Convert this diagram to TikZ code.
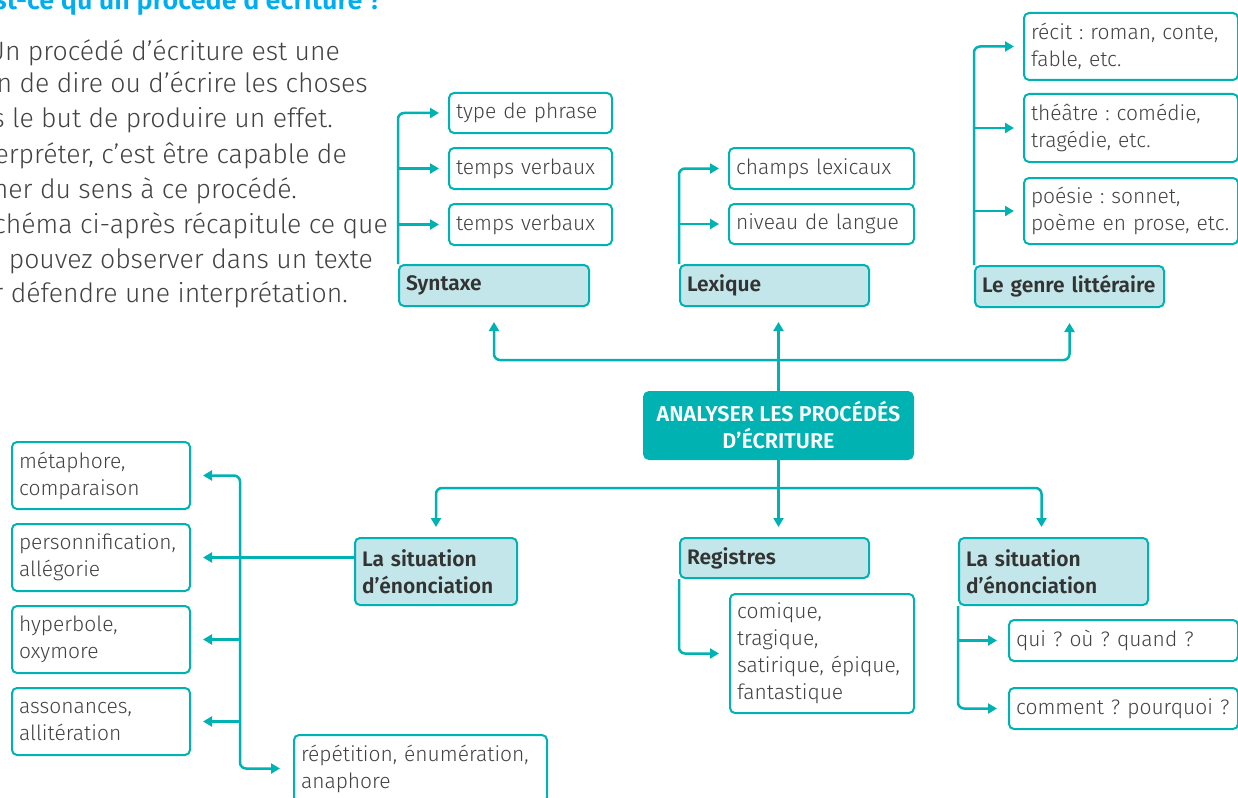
\documentclass[tikz,border=0pt]{standalone}
\usepackage{fontspec}
\setmainfont{Fira Sans Light}[BoldFont={Fira Sans SemiBold}]
\usetikzlibrary{arrows.meta}
\frenchspacing
\hyphenpenalty=10000
\exhyphenpenalty=10000
\definecolor{teal1}{RGB}{0,178,178}
\definecolor{pale}{RGB}{194,230,233}
\definecolor{txt}{RGB}{66,66,66}
\definecolor{ink}{RGB}{51,51,51}
\definecolor{titre}{RGB}{0,174,239}
\tikzset{
    box/.style={draw=teal1,line width=2pt,rounded corners=5pt,anchor=north west,
        align=left,inner xsep=7pt,inner ysep=0pt,font=\fontsize{21}{27}\selectfont},
    leaf/.style={box,fill=white,text=txt},
    head/.style={box,fill=pale,text=ink,font=\fontsize{21}{27}\selectfont\bfseries},
    link/.style={draw=teal1,line width=2.5pt},
    para/.style={anchor=base east,inner sep=0pt,text=txt,font=\fontsize{26.6}{30}\selectfont},
}

\begin{document}
\begin{tikzpicture}[x=1pt,y=-1pt,>={Triangle[length=9pt,width=10pt]}]
    \useasboundingbox (0,0) rectangle (1238,797);
    \node[para,text=titre,font=\fontsize{27}{30}\selectfont\bfseries] (titre) at (382,10) {st-ce qu’un procédé d’écriture ?};
    \foreach \y/\x/\lbl [count=\i] in {
        61/340/Un procédé d’écriture est une,
        93/368/n de dire ou d’écrire les choses,
        128/333/s le but de produire un effet.,
        163/347/{erpréter, c’est être capable de},
        198/297/ner du sens à ce procédé.,
        233/388/chéma ci-après récapitule ce que,
        268/373/s pouvez observer dans un texte,
        302/348/r défendre une interprétation.}
    \node[para] (para\i) at (\x,\y) {\lbl};
    % boites
    \foreach \n/\x/\y/\w/\h/\lbl in {
        sphrase/448/92/163/40/type de phrase,
        stemps1/448/147/163/41/temps verbaux,
        stemps2/448/203/163/41/temps verbaux,
        lchamps/728/147/185/41/champs lexicaux,
        lniveau/728/203/185/40/niveau de langue,
        grecit/1023/12/214/67/{récit : roman, conte,\\fable, etc.},
        gtheatre/1023/93/214/68/{théâtre : comédie,\\tragédie, etc.},
        gpoesie/1023/177/214/66/{poésie : sonnet,\\poème en prose, etc.},
        metaphore/11/441/178/67/{métaphore,\\comparaison},
        personnif/11/523/178/67/{personnification,\\allégorie},
        hyperbole/11/605/178/67/{hyperbole,\\oxymore},
        assonances/11/687/178/67/{assonances,\\allitération},
        repetition/293/734/253/67/{répétition, énumération,\\anaphore},
        comique/729/593/184/119/{comique,\\tragique,\\satirique, épique,\\fantastique},
        qui/1008/619/229/41/qui ? où ? quand ?,
        comment/1008/687/229/41/comment ? pourquoi ?}
    {\pgfmathsetmacro{\tw}{\w-14}
    \node[leaf,minimum width=\w,minimum height=\h,text width=\tw pt] (\n) at (\x,\y) {\lbl};}
    \foreach \n/\x/\y/\w/\h/\lbl in {
        syntaxe/398/264/190/41/Syntaxe,
        lexique/679/264/189/41/Lexique,
        genre/974/265/189/41/Le genre littéraire,
        situation/354/537/162/67/{La situation\\d’énonciation},
        registres/679/537/189/40/Registres,
        situation2/958/537/189/67/{La situation\\d’énonciation}}
    {\pgfmathsetmacro{\tw}{\w-14}
    \node[head,minimum width=\w,minimum height=\h,text width=\tw pt] (\n) at (\x,\y) {\lbl};}
    \node[box,fill=teal1,text=white,align=center,minimum width=269,minimum height=67,
        font=\fontsize{21.5}{27}\selectfont\bfseries] (root) at (643,391) {ANALYSER LES PROCÉDÉS\\D’ÉCRITURE};
    % liaisons
    \coordinate (bus) at (777,360);
    \coordinate (bus2) at (777,488);
    \coordinate (spine) at (240,0);
    \draw[link,<->,rounded corners=6pt,shorten <=15pt,shorten >=15pt] (syntaxe.south) |- (bus) -| (genre.south);
    \draw[link,->,shorten >=15pt] (root.north) -- (root.north |- lexique.south);
    \draw[link,->,shorten >=10pt] (root.south) -- (root.south |- registres.north);
    \draw[link,<->,rounded corners=6pt,shorten <=10pt,shorten >=10pt] (situation.north) |- (bus2) -| ([xshift=-12pt]situation2.north);
    \foreach \a/\b in {syntaxe/sphrase,lexique/lchamps,genre/grecit}
    \draw[link,->,rounded corners=6pt,shorten >=9pt] (\a.north west) |- (\b.west);
    \foreach \a/\b in {syntaxe/stemps1,syntaxe/stemps2,lexique/lniveau,genre/gtheatre,genre/gpoesie}
    \draw[link,->,shorten >=9pt] (\a.north west |- \b.west) -- (\b.west);
    \draw[link,->,rounded corners=6pt,shorten >=10pt] (registres.south west) |- (comique.west);
    \draw[link,->,rounded corners=6pt,shorten >=11pt] (situation2.south west) |- (comment.west);
    \draw[link,->,shorten >=11pt] (situation2.south west |- qui.west) -- (qui.west);
    \draw[link,<->,rounded corners=6pt,shorten <=12pt,shorten >=13pt] (metaphore.east) -| (spine |- repetition.west) -- (repetition.west);
    \draw[link,->,shorten >=12pt] (situation.west |- personnif.east) -- (personnif.east);
    \foreach \b in {hyperbole,assonances}
    \draw[link,->,shorten >=12pt] (spine |- \b.east) -- (\b.east);
\end{tikzpicture}
\end{document}
